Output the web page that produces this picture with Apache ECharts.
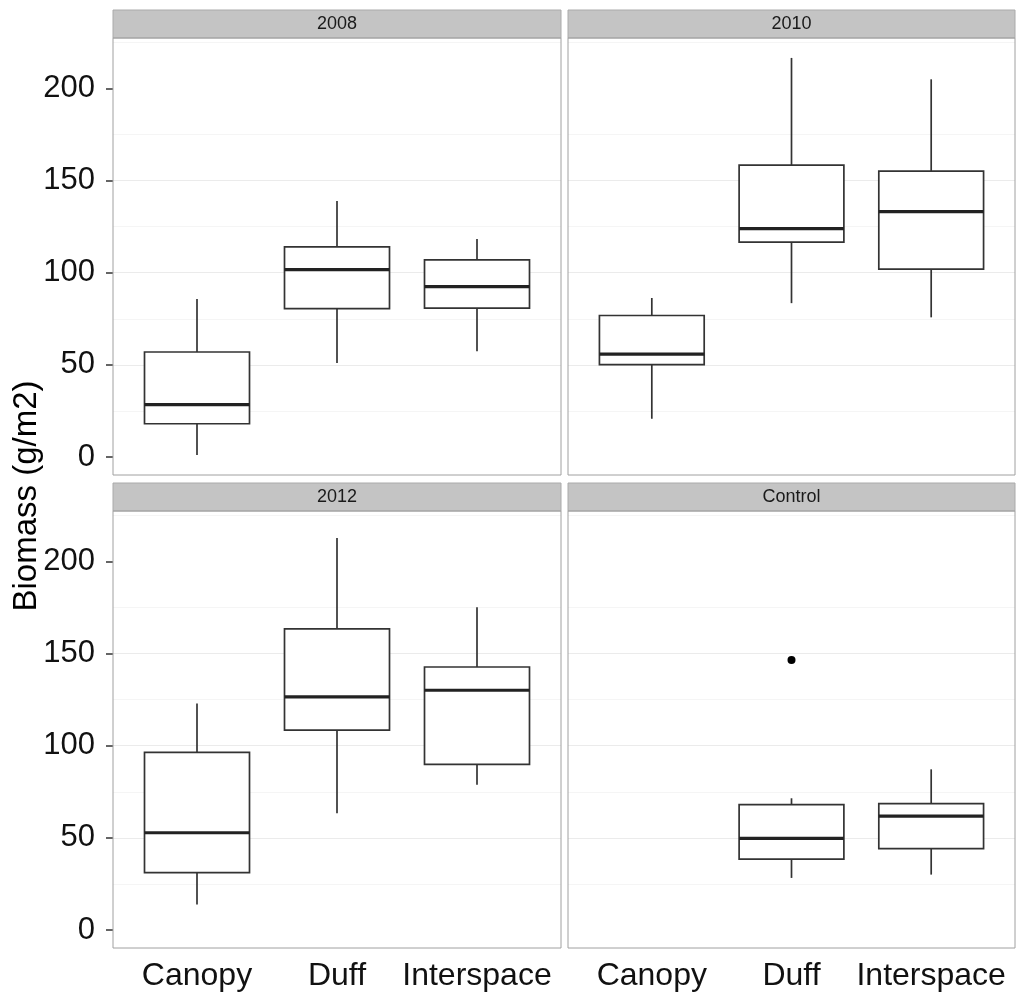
<!DOCTYPE html>
<html>
<head>
<meta charset="utf-8">
<style>
  html, body { margin: 0; padding: 0; background: #ffffff; }
  #chart { width: 1018px; height: 994px; }
</style>
<script src="https://cdn.jsdelivr.net/npm/echarts@6/dist/echarts.min.js"></script>
</head>
<body>
<div id="chart"></div>
<script>
// ---------------- data ----------------
const categories = ['Canopy', 'Duff', 'Interspace'];
const panels = ['2008', '2010', '2012', 'Control'];
const yTickValues = [0, 50, 100, 150, 200];

// [category, lower whisker, Q1, median, Q3, upper whisker]
const box2008 = [
  ['Canopy', 1.1, 18.1, 28.5, 57.0, 85.7],
  ['Duff', 51.1, 80.5, 101.7, 114.0, 138.9],
  ['Interspace', 57.4, 80.8, 92.5, 107.0, 118.3]
];
const box2010 = [
  ['Canopy', 20.8, 50.2, 55.9, 76.8, 86.3],
  ['Duff', 83.5, 116.6, 123.9, 158.4, 216.5],
  ['Interspace', 75.8, 101.9, 133.1, 155.1, 204.9]
];
const box2012 = [
  ['Canopy', 13.9, 31.2, 52.8, 96.4, 122.9],
  ['Duff', 63.4, 108.5, 126.5, 163.4, 212.6],
  ['Interspace', 78.8, 89.9, 130.1, 142.7, 175.1]
];
const boxControl = [
  ['Duff', 28.3, 38.5, 49.7, 68.1, 71.5],
  ['Interspace', 30.1, 44.2, 61.8, 68.6, 87.2]
];
// [category, value]
const outliers2008 = [];
const outliers2010 = [];
const outliers2012 = [];
const outliersControl = [['Duff', 146.5]];

const boxesByPanel = [box2008, box2010, box2012, boxControl];
const outliersByPanel = [outliers2008, outliers2010, outliers2012, outliersControl];

// ---------------- layout / style ----------------
const FONT = '"Liberation Sans", Arial, Helvetica, sans-serif';
const COLS = [{ left: 113, width: 448 }, { left: 568, width: 447 }];
const ROWS = [38, 511];
const PANEL_H = 437;
const STRIP_H = 28;
const BOX_WIDTH = 0.75;
const Y_MIN = -9.7, Y_MAX = 227.3;
const LINE_COLOR = '#333333';

function catX(name) { return categories.indexOf(name) + 1; }

function renderBox(params, api) {
  const x = api.value(0);
  const pLo = api.coord([x, api.value(1)]);
  const pQ1 = api.coord([x, api.value(2)]);
  const pMed = api.coord([x, api.value(3)]);
  const pQ3 = api.coord([x, api.value(4)]);
  const pHi = api.coord([x, api.value(5)]);
  const half = api.size([BOX_WIDTH, 0])[0] / 2;
  const lw = 1.7;
  return {
    type: 'group',
    children: [
      { type: 'line', shape: { x1: pHi[0], y1: pHi[1], x2: pQ3[0], y2: pQ3[1] }, style: { stroke: LINE_COLOR, lineWidth: lw } },
      { type: 'line', shape: { x1: pQ1[0], y1: pQ1[1], x2: pLo[0], y2: pLo[1] }, style: { stroke: LINE_COLOR, lineWidth: lw } },
      { type: 'rect', shape: { x: pQ3[0] - half, y: pQ3[1], width: half * 2, height: pQ1[1] - pQ3[1] },
        style: { fill: '#ffffff', stroke: LINE_COLOR, lineWidth: lw } },
      { type: 'line', shape: { x1: pMed[0] - half, y1: pMed[1], x2: pMed[0] + half, y2: pMed[1] },
        style: { stroke: '#222222', lineWidth: 3.2 } }
    ]
  };
}

const grids = [], xAxes = [], yAxes = [], series = [], graphics = [];

panels.forEach((name, i) => {
  const col = i % 2, row = Math.floor(i / 2);
  const left = COLS[col].left, width = COLS[col].width, top = ROWS[row];
  grids.push({ left: left, top: top, width: width, height: PANEL_H, containLabel: false });
  xAxes.push({
    type: 'value', gridIndex: i, min: 0.4, max: 3.6,
    axisLine: { show: false }, axisTick: { show: false }, splitLine: { show: false },
    axisLabel: {
      show: row === 1, customValues: [1, 2, 3],
      formatter: v => categories[Math.round(v) - 1] || '',
      fontSize: 32, fontFamily: FONT, color: '#111111', margin: 12
    }
  });
  yAxes.push({
    type: 'value', gridIndex: i, min: Y_MIN, max: Y_MAX, splitNumber: 5,
    axisLine: { show: false },
    axisTick: { show: col === 0, customValues: yTickValues, length: 7, lineStyle: { color: '#333333', width: 1.5 } },
    axisLabel: { show: col === 0, customValues: yTickValues, fontSize: 31, fontFamily: FONT, color: '#111111', margin: 18 },
    splitLine: { show: true, showMinLine: false, showMaxLine: false, lineStyle: { color: '#ebebeb', width: 1 } },
    minorTick: { show: false, splitNumber: 2 },
    minorSplitLine: { show: true, lineStyle: { color: '#f5f5f5', width: 1 } }
  });
  series.push({
    type: 'custom', xAxisIndex: i, yAxisIndex: i,
    renderItem: renderBox,
    encode: { x: 0, y: [1, 2, 3, 4, 5] },
    data: boxesByPanel[i].map(d => [catX(d[0]), d[1], d[2], d[3], d[4], d[5]]),
    z: 3
  });
  if (outliersByPanel[i].length) {
    series.push({
      type: 'scatter', xAxisIndex: i, yAxisIndex: i,
      data: outliersByPanel[i].map(d => [catX(d[0]), d[1]]),
      symbol: 'circle', symbolSize: 8,
      itemStyle: { color: '#000000', opacity: 1 }, z: 4
    });
  }
  // strip
  graphics.push({
    type: 'rect', silent: true, z: 50,
    shape: { x: left, y: top - STRIP_H, width: width, height: STRIP_H },
    style: { fill: '#c4c4c4', stroke: '#aaaaaa', lineWidth: 1 }
  });
  graphics.push({
    type: 'text', silent: true, z: 51,
    x: left + width / 2, y: top - STRIP_H / 2 + 0.5,
    style: { text: name, fontSize: 18, fontFamily: FONT, fill: '#1a1a1a', align: 'center', verticalAlign: 'middle' }
  });
  // panel border
  graphics.push({
    type: 'rect', silent: true, z: 50,
    shape: { x: left, y: top, width: width, height: PANEL_H },
    style: { fill: 'none', stroke: '#a0a0a0', lineWidth: 1 }
  });
});

graphics.push({
  type: 'text', silent: true, z: 51,
  x: 27, y: 496, rotation: Math.PI / 2,
  style: { text: 'Biomass (g/m2)', fontSize: 33, fontFamily: FONT, fill: '#000000', align: 'center', verticalAlign: 'middle' }
});

const chart = echarts.init(document.getElementById('chart'), null, { renderer: 'canvas' });
chart.setOption({
  animation: false,
  backgroundColor: '#ffffff',
  grid: grids,
  xAxis: xAxes,
  yAxis: yAxes,
  series: series,
  graphic: { elements: graphics }
});
</script>
</body>
</html>
